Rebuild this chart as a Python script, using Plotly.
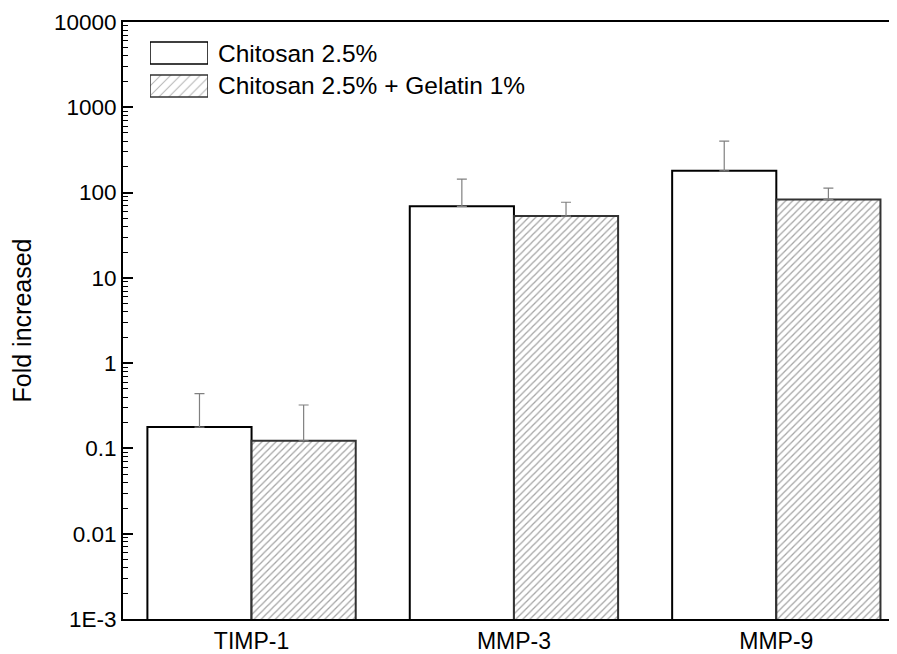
import plotly.graph_objects as go

categories = ["TIMP-1", "MMP-3", "MMP-9"]
series_names = ["Chitosan 2.5%", "Chitosan 2.5% + Gelatin 1%"]
chitosan = [0.178, 69, 180]
chitosan_err = [0.26, 75, 220]
chit_gel = [0.123, 53, 83]
chit_gel_err = [0.20, 24, 30]
ytick_vals = [1e-3, 1e-2, 1e-1, 1, 10, 100, 1000, 10000]
ytick_text = ["1E-3", "0.01", "0.1", "1", "10", "100", "1000", "10000"]

FONT = "Liberation Sans, Arial, sans-serif"
HATCH = dict(shape="/", fgcolor="#4a4a4a", bgcolor="white", size=5, solidity=0.25)

# page body has an 8px margin, so the figure is drawn 16px smaller
W, H = 889, 646
L, R, T, B = 115, 0, 14, 35

minor_vals = [k * v for v in ytick_vals[:-1] for k in range(2, 10)]

fig = go.Figure()
fig.add_trace(go.Bar(
    name=series_names[0], x=categories, y=chitosan,
    marker=dict(color="white", line=dict(color="black", width=2)),
    error_y=dict(type="data", symmetric=False, array=chitosan_err,
                 arrayminus=[0, 0, 0], color="#808080", thickness=1.2, width=5),
    showlegend=False,
))
fig.add_trace(go.Bar(
    name=series_names[1], x=categories, y=chit_gel,
    marker=dict(color="white", line=dict(color="#333333", width=2), pattern=HATCH),
    error_y=dict(type="data", symmetric=False, array=chit_gel_err,
                 arrayminus=[0, 0, 0], color="#808080", thickness=1.2, width=5),
    showlegend=False,
))

# legend swatches drawn on a small hidden axis pair
fig.add_trace(go.Bar(
    x=[1], y=[series_names[0]], orientation="h", xaxis="x2", yaxis="y2",
    width=0.667, marker=dict(color="white", line=dict(color="black", width=1.5)),
    showlegend=False, hoverinfo="skip",
))
fig.add_trace(go.Bar(
    x=[1], y=[series_names[1]], orientation="h", xaxis="x2", yaxis="y2",
    width=0.667, marker=dict(color="white", line=dict(color="#333333", width=1.5),
                             pattern=dict(shape="/", fgcolor="#6e6e6e", bgcolor="white",
                                          size=7, solidity=0.15)),
    showlegend=False, hoverinfo="skip",
))

pw = W - L - R
ph = H - T - B
def px_x(x):
    return (x - L) / pw
def px_y(y):
    return (H - B - y) / ph

leg_x0, leg_x1 = 142, 200
leg_ytop, leg_ybot = 28.5, 94.5

fig.update_layout(
    width=W, height=H,
    margin=dict(l=L, r=R, t=T, b=B),
    paper_bgcolor="white", plot_bgcolor="white",
    barmode="group", bargap=0.206, bargroupgap=0,
    font=dict(family=FONT, size=22, color="black"),
    showlegend=False,
    xaxis2=dict(domain=[px_x(leg_x0), px_x(leg_x1)], range=[0, 1], anchor="y2",
                visible=False, fixedrange=True),
    yaxis2=dict(domain=[px_y(leg_ybot), px_y(leg_ytop)], range=[1.5, -0.5],
                anchor="x2", visible=False, fixedrange=True,
                categoryorder="array", categoryarray=series_names),
)
for i, name in enumerate(series_names):
    fig.add_annotation(
        text=name, xref="paper", yref="paper",
        x=px_x(leg_x1 + 8), y=px_y(leg_ytop + 16.5 + 33 * i),
        xanchor="left", yanchor="middle", showarrow=False,
        font=dict(size=24.5, family=FONT, color="black"),
    )

fig.update_layout(yaxis=dict(
    type="log", range=[-3, 4], showline=True, linecolor="black", linewidth=2,
    mirror=False, ticks="inside", ticklen=10, tickwidth=1.5, tickcolor="black",
    tickmode="array", tickvals=ytick_vals, ticktext=ytick_text,
    showgrid=False, zeroline=False, layer="above traces",
    tickfont=dict(size=22.5, family=FONT),
    minor=dict(ticks="inside", ticklen=5, tickwidth=1, tickcolor="black",
               tickmode="array", tickvals=minor_vals, showgrid=False),
    automargin=False,
    title=dict(text="Fold increased", font=dict(size=25, family=FONT), standoff=17),
))
fig.update_layout(xaxis=dict(range=[-0.49, 2.46], showline=True, linecolor="black",
                             linewidth=2, mirror=True, ticks="", showgrid=False,
                             zeroline=False, automargin=False,
                             tickfont=dict(size=23, family=FONT)))

fig.write_html("out.html")
